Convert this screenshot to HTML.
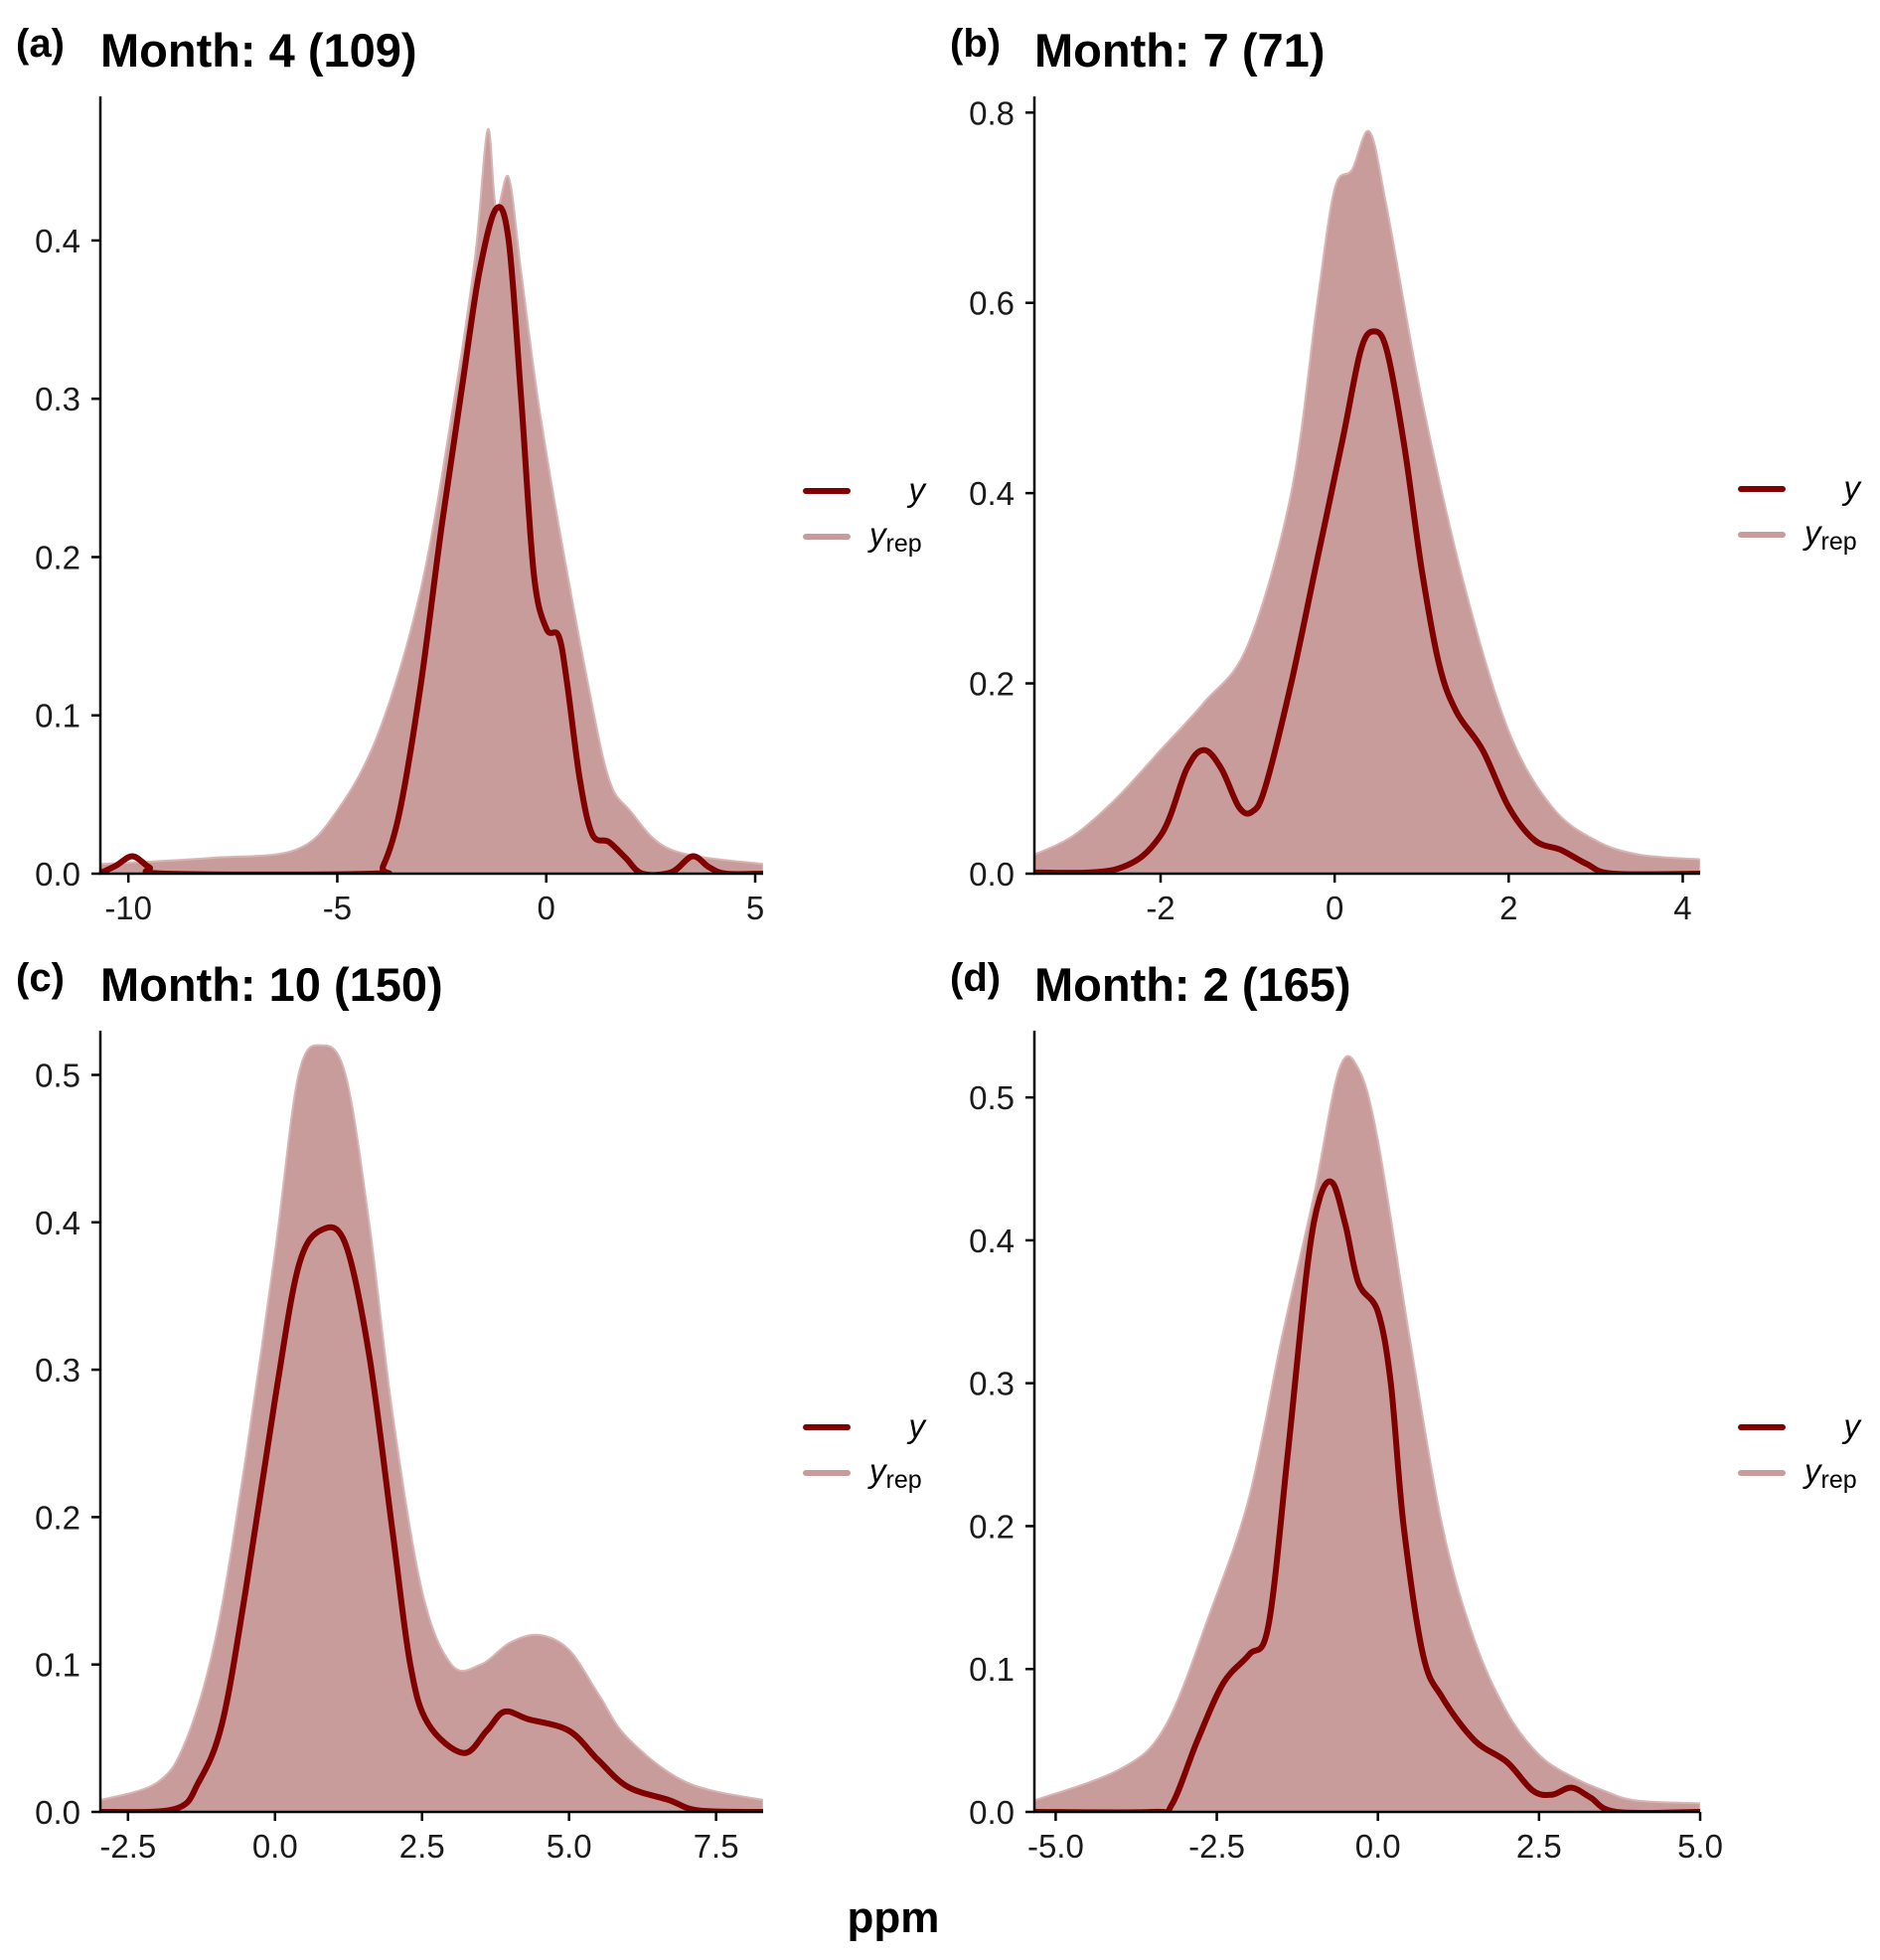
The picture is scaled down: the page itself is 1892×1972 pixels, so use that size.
<!DOCTYPE html>
<html><head><meta charset="utf-8"><style>
body{margin:0;background:#fff;}
svg{display:block;font-family:"Liberation Sans",Arial,sans-serif;}
</style></head><body>
<svg id="fig" width="1892" height="1972" viewBox="0 0 1892 1972"></svg>
<script>
// ---- data: panel (a) Month 4 ----
const aObsX=[-10.7,-10.3,-9.9,-9.5,-9.1,-4.2,-3.9,-3.5,-3.0,-2.5,-2.0,-1.6,-1.2,-0.9,-0.6,-0.3,0,0.3,0.5,0.8,1.1,1.5,1.9,2.3,3.0,3.5,3.9,4.3,5.19];
const aObsY=[0,0.005,0.011,0.004,0,0,0.005,0.04,0.12,0.22,0.31,0.38,0.42,0.40,0.30,0.19,0.155,0.15,0.12,0.06,0.025,0.02,0.01,0,0.001,0.011,0.004,0,0];
const aRepX=[-10.67,-8,-6,-5,-4,-3,-2.2,-1.7,-1.4,-1.2,-0.9,-0.6,-0.2,0.3,1,1.5,2,3,5.19];
const aRepY=[0.006,0.01,0.015,0.04,0.09,0.18,0.3,0.39,0.47,0.42,0.44,0.38,0.3,0.22,0.12,0.06,0.04,0.015,0.006];
// ---- data: panel (b) Month 7 ----
const bObsX=[-3.45,-2.5,-2.0,-1.7,-1.5,-1.3,-1.1,-0.95,-0.8,-0.5,-0.2,0.1,0.3,0.45,0.6,0.8,1.0,1.2,1.4,1.7,2.0,2.3,2.6,2.9,3.2,4.2];
const bObsY=[0.001,0.005,0.04,0.11,0.13,0.11,0.07,0.065,0.09,0.2,0.33,0.46,0.55,0.57,0.55,0.45,0.32,0.22,0.17,0.13,0.07,0.035,0.025,0.01,0,0];
const bRepX=[-3.45,-3,-2.5,-2,-1.5,-1,-0.5,-0.2,0,0.2,0.4,0.6,1.0,1.5,2.0,2.5,3,3.5,4.2];
const bRepY=[0.02,0.04,0.08,0.13,0.18,0.24,0.4,0.6,0.72,0.74,0.78,0.7,0.5,0.3,0.15,0.07,0.035,0.02,0.015];
// ---- data: panel (c) Month 10 ----
const cObsX=[-2.97,-1.7,-1.3,-0.9,-0.5,0,0.4,0.8,1.2,1.6,2,2.3,2.6,3.2,3.6,3.9,4.3,5,5.5,6,6.7,7.2,8.3];
const cObsY=[0,0.002,0.02,0.06,0.15,0.28,0.37,0.395,0.385,0.31,0.19,0.1,0.06,0.04,0.055,0.068,0.063,0.055,0.035,0.017,0.008,0.001,0];
const cRepX=[-2.97,-2,-1.5,-1,-0.5,0,0.4,0.8,1.2,1.6,2,2.5,3,3.5,4,4.5,5,5.5,6,7,8.3];
const cRepY=[0.008,0.02,0.05,0.12,0.24,0.38,0.5,0.52,0.5,0.4,0.27,0.15,0.1,0.1,0.115,0.12,0.11,0.08,0.05,0.02,0.008];
// ---- data: panel (d) Month 2 ----
const dObsX=[-5.33,-3.5,-3.2,-2.8,-2.4,-2.0,-1.7,-1.4,-1.1,-0.9,-0.7,-0.5,-0.3,0,0.2,0.4,0.7,1.0,1.5,2.0,2.4,2.7,3.0,3.3,3.7,5.0];
const dObsY=[0,0,0.005,0.05,0.09,0.11,0.13,0.25,0.38,0.43,0.44,0.41,0.37,0.35,0.3,0.2,0.11,0.08,0.05,0.035,0.015,0.012,0.017,0.01,0,0];
const dRepX=[-5.33,-4,-3.3,-2.6,-2,-1.5,-1,-0.6,-0.3,0,0.5,1,1.5,2,2.5,3,3.5,4,5.0];
const dRepY=[0.008,0.03,0.06,0.14,0.22,0.33,0.43,0.52,0.52,0.47,0.33,0.2,0.12,0.07,0.04,0.025,0.015,0.008,0.006];
// tick labels
const aXT=[-10,-5,0,5], aXL=["-10","-5","0","5"], aYT=[0,0.1,0.2,0.3,0.4], aYL=["0.0","0.1","0.2","0.3","0.4"];
const bXT=[-2,0,2,4], bXL=["-2","0","2","4"], bYT=[0,0.2,0.4,0.6,0.8], bYL=["0.0","0.2","0.4","0.6","0.8"];
const cXT=[-2.5,0,2.5,5,7.5], cXL=["-2.5","0.0","2.5","5.0","7.5"], cYT=[0,0.1,0.2,0.3,0.4,0.5], cYL=["0.0","0.1","0.2","0.3","0.4","0.5"];
const dXT=[-5,-2.5,0,2.5,5], dXL=["-5.0","-2.5","0.0","2.5","5.0"], dYT=[0,0.1,0.2,0.3,0.4,0.5], dYL=["0.0","0.1","0.2","0.3","0.4","0.5"];

const NS="http://www.w3.org/2000/svg";
const svg=document.getElementById('fig');
function el(tag,attrs,parent,txt){const e=document.createElementNS(NS,tag);for(const k in attrs)e.setAttribute(k,attrs[k]);if(txt!==undefined)e.textContent=txt;(parent||svg).appendChild(e);return e;}
function smooth(pts){let d="M"+pts[0][0].toFixed(1)+","+pts[0][1].toFixed(1);
 for(let i=0;i<pts.length-1;i++){const p0=pts[Math.max(0,i-1)],p1=pts[i],p2=pts[i+1],p3=pts[Math.min(pts.length-1,i+2)];
  const c1=[p1[0]+(p2[0]-p0[0])/6,p1[1]+(p2[1]-p0[1])/6],c2=[p2[0]-(p3[0]-p1[0])/6,p2[1]-(p3[1]-p1[1])/6];
  d+=" C"+c1[0].toFixed(1)+","+c1[1].toFixed(1)+" "+c2[0].toFixed(1)+","+c2[1].toFixed(1)+" "+p2[0].toFixed(1)+","+p2[1].toFixed(1);}
 return d;}
function panel(cfg){
 const g=el('g',{});
 
 
 const L=cfg.left,R=cfg.right,B=cfg.bottom,T=cfg.top;
 const sx=v=>L+(v-cfg.xmin)/(cfg.xmax-cfg.xmin)*(R-L);
 const sy=v=>B-(v-0)/(cfg.ymax)*(B-T);
 const clip='clip-'+cfg.id;
 const cp=el('clipPath',{id:clip},g); el('rect',{x:L,y:T-10,width:R-L,height:B-T+10},cp);
 const up=cfg.repX.map((x,i)=>[sx(x),sy(cfg.repY[i])]);
 let d=smooth(up)+" L"+sx(cfg.repX[cfg.repX.length-1])+","+B+" L"+sx(cfg.repX[0])+","+B+" Z";
 const band=el('path',{d:d,fill:'#c99c9c',stroke:'#d8b4b4','stroke-width':2,'clip-path':'url(#'+clip+')'},g);
 
 
 const ob=cfg.obsX.map((x,i)=>[sx(x),sy(cfg.obsY[i])]);
 const line=el('path',{d:smooth(ob),fill:'none',stroke:'#800000','stroke-width':6,'stroke-linejoin':'round','clip-path':'url(#'+clip+')'},g);
 
 
 const ax=el('path',{d:`M${L},${T} L${L},${B} L${R},${B}`,fill:'none',stroke:'#000','stroke-width':2.5},g);
 
 
 cfg.xt.forEach((v,i)=>{const x=sx(v);el('line',{x1:x,x2:x,y1:B,y2:B+9,stroke:'#000','stroke-width':2.5},g);
  const t=el('text',{x:x,y:B+46,'font-size':33,'text-anchor':'middle',fill:'#1a1a1a'},g,cfg.xl[i]);
  
  });
 cfg.yt.forEach((v,i)=>{const y=sy(v);el('line',{x1:L-9,x2:L,y1:y,y2:y,stroke:'#000','stroke-width':2.5},g);
  const t=el('text',{x:L-20,y:y+12,'font-size':33,'text-anchor':'end',fill:'#1a1a1a'},g,cfg.yl[i]);
  
  });
 const tg=el('text',{x:cfg.tagX,y:cfg.titleY-10,'font-size':40,'font-weight':'bold'},g,'('+cfg.id+')');
 
 
 const tt=el('text',{x:L,y:cfg.titleY,'font-size':47,'font-weight':'bold'},g,cfg.title);
 
 
 const lg=el('g',{},g);
 
 
 const lx=cfg.legX, ly=cfg.legY;
 el('line',{x1:lx,x2:lx+42,y1:ly,y2:ly,stroke:'#800000','stroke-width':6,'stroke-linecap':'round'},lg);
 el('text',{x:lx+120,y:ly+10,'font-size':33,'font-style':'italic','text-anchor':'end'},lg,'y');
 el('line',{x1:lx,x2:lx+42,y1:ly+46,y2:ly+46,stroke:'#c99c9c','stroke-width':6,'stroke-linecap':'round'},lg);
 const yr=el('text',{x:lx+64,y:ly+55,'font-size':33,'font-style':'italic'},lg,'y');
 el('tspan',{'font-style':'normal','font-size':25,dy:6},yr,'rep');
}
panel({id:'a',title:'Month: 4 (109)',left:101,right:768,top:97,bottom:879,xmin:-10.67,xmax:5.19,ymax:0.491,
 obsX:aObsX,obsY:aObsY,repX:aRepX,repY:aRepY,xt:aXT,xl:aXL,yt:aYT,yl:aYL,tagX:16,titleY:67,legX:811,legY:494});
panel({id:'b',title:'Month: 7 (71)',left:1041,right:1711,top:97,bottom:879,xmin:-3.45,xmax:4.2,ymax:0.817,
 obsX:bObsX,obsY:bObsY,repX:bRepX,repY:bRepY,xt:bXT,xl:bXL,yt:bYT,yl:bYL,tagX:956,titleY:67,legX:1752,legY:492});
panel({id:'c',title:'Month: 10 (150)',left:101,right:768,top:1037,bottom:1823,xmin:-2.97,xmax:8.3,ymax:0.53,
 obsX:cObsX,obsY:cObsY,repX:cRepX,repY:cRepY,xt:cXT,xl:cXL,yt:cYT,yl:cYL,tagX:16,titleY:1007,legX:811,legY:1436});
panel({id:'d',title:'Month: 2 (165)',left:1041,right:1711,top:1037,bottom:1823,xmin:-5.33,xmax:5.0,ymax:0.5467,
 obsX:dObsX,obsY:dObsY,repX:dRepX,repY:dRepY,xt:dXT,xl:dXL,yt:dYT,yl:dYL,tagX:956,titleY:1007,legX:1752,legY:1436});
const xl=el('text',{x:899,y:1944,'font-size':44,'font-weight':'bold','text-anchor':'middle'},svg,'ppm');


</script>
</body></html>
